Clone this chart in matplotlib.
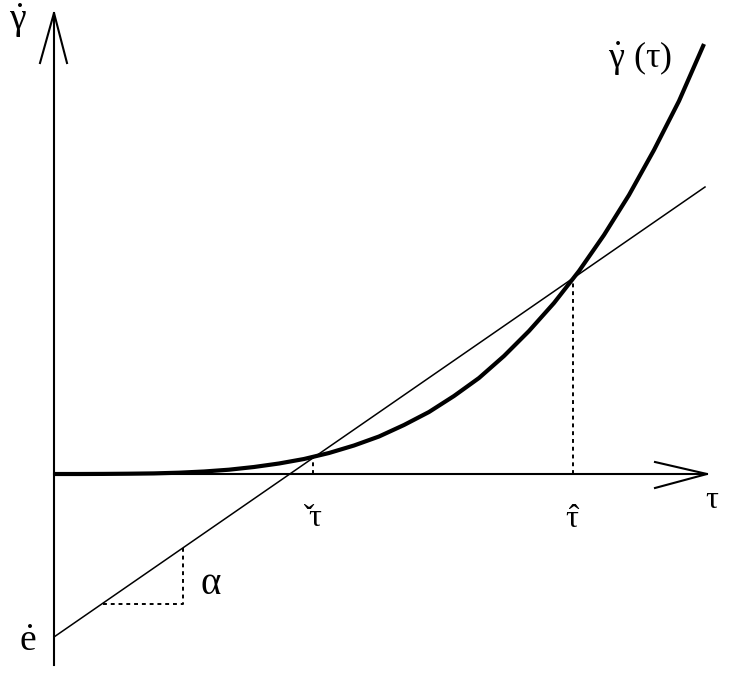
import numpy as np
import matplotlib.pyplot as plt

plt.rcParams['mathtext.fontset'] = 'custom'
plt.rcParams['mathtext.rm'] = 'Liberation Serif'
plt.rcParams['mathtext.it'] = 'Liberation Serif'
plt.rcParams['font.family'] = ['Liberation Serif', 'DejaVu Sans']

# curve gamma_dot(tau), values
tau = [0, 25, 50, 75, 100, 125, 150, 175, 200, 225, 250, 275, 300, 325,
       350, 375, 400, 425, 450, 475, 500, 525, 550, 575, 600, 625, 650]
gam = [0, 0, 0.1, 0.3, 0.6, 1.3, 2.5, 4.3, 7, 10.5, 15, 21, 28.5, 37.5,
       49, 62, 78, 96, 118, 143, 171, 203, 239, 279, 324, 373, 430]

# straight line through the two crossing points
line_tau = [0, 651]
line_gam = [-163, 287]

tau_check = 259
tau_hat = 519
gam_check = 16
gam_hat = 196

# slope triangle
tri_x = [49, 129, 129]
tri_y = [-130, -130, -74]

fig = plt.figure(figsize=(7.32, 6.82), dpi=100)
ax = fig.add_axes([0, 0, 1, 1])
ax.set_xlim(-54, 678)
ax.set_ylim(-208, 474)
ax.axis('off')

k = 'black'
# axes with open arrow heads
ax.plot([0, 0], [-191, 461], color=k, lw=1.5)
ax.plot([-14, 0, 13], [411, 461, 411], color=k, lw=1.5)
ax.plot([0, 653], [0, 0], color=k, lw=1.5)
ax.plot([601, 653, 601], [12, 0, -14], color=k, lw=1.5)

ax.plot(tau, gam, color=k, lw=3.0, solid_capstyle='butt', solid_joinstyle='round')
ax.plot(line_tau, line_gam, color=k, lw=1.1)

ax.plot([tau_check, tau_check], [0, gam_check], color=k, lw=1.4, ls=(0, (2, 2)))
ax.plot([tau_hat, tau_hat], [0, gam_hat], color=k, lw=1.4, ls=(0, (2, 2)))
ax.plot(tri_x, tri_y, color=k, lw=1.4, ls=(0, (2, 2)))

ax.text(-36, 453, r'$\dot{\gamma}$', fontsize=27, ha='center', va='center')
ax.text(586, 416, r'$\dot{\gamma}\ (\tau)$', fontsize=26, ha='center', va='center')
ax.text(658, -27, r'$\tau$', fontsize=23, ha='center', va='center')
ax.text(tau_check, -45, r'$\check{\tau}$', fontsize=23, ha='center', va='center')
ax.text(tau_hat, -46, r'$\hat{\tau}$', fontsize=23, ha='center', va='center')
ax.text(157, -111, r'$\alpha$', fontsize=28, ha='center', va='center')
ax.text(-26, -168, r'$\dot{e}$', fontsize=27, ha='center', va='center')

fig.savefig('out.png', dpi=100)
